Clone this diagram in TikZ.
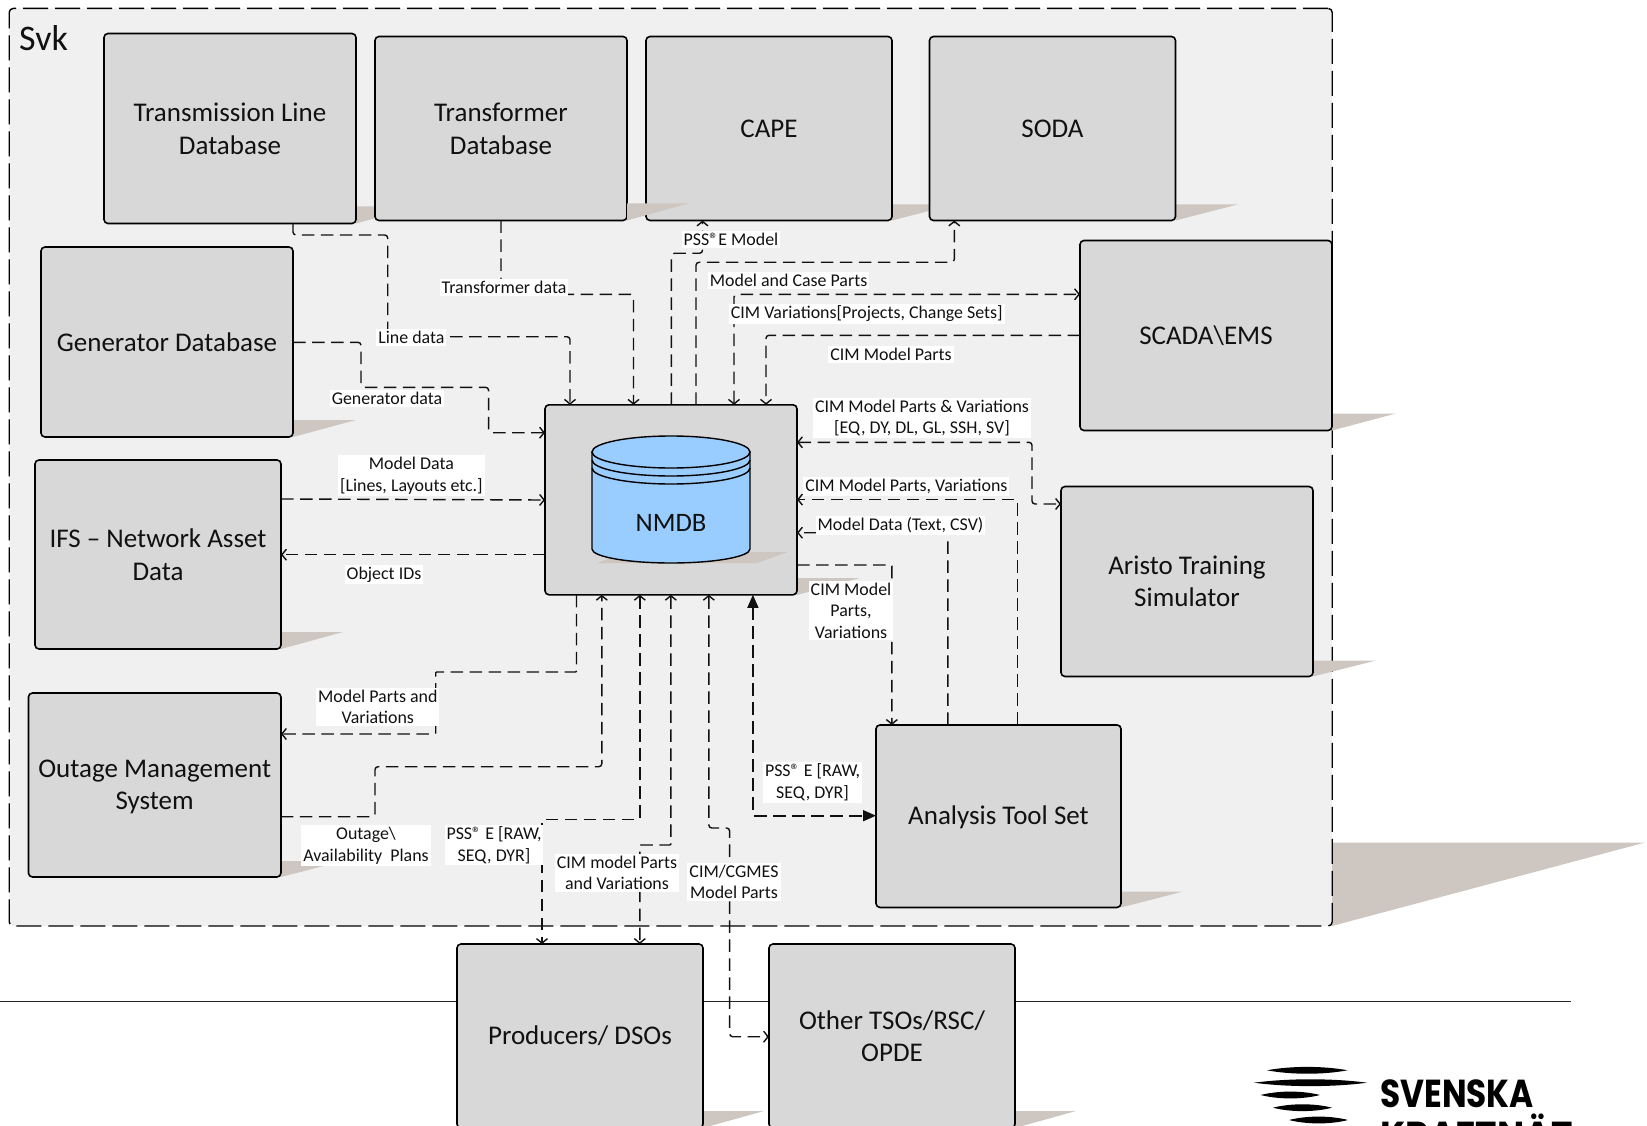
\documentclass[tikz,border=0pt]{standalone}
\usepackage{fontspec}
\setmainfont{Carlito}
\newfontfamily\logofonta[FakeStretch=0.84]{Poppins}
\newfontfamily\logofontb[FakeStretch=0.93]{Poppins}
\usetikzlibrary{arrows.meta}
\definecolor{cont}{HTML}{F0F0F0}
\definecolor{boxf}{HTML}{D8D8D8}
\definecolor{shad}{HTML}{CEC6C0}
\definecolor{cyl}{HTML}{99CCFF}
\definecolor{ink}{HTML}{111111}
\tikzset{
  x=1pt,y=-1pt,
  >={Straight Barb[length=4.5,width=11]},
  sysbox/.style={draw=black,line width=1.6,fill=boxf,rounded corners=4,outer sep=0,inner sep=0,align=center,
     font=\fontsize{27}{32.5}\selectfont,text=ink},
  boxtext/.style={align=center,inner sep=0,font=\fontsize{27}{32.5}\selectfont,text=ink},
  flow/.style={draw=ink,line width=1.4,dash pattern=on 12.5 off 6.5,rounded corners=3},
  lab/.style={fill=white,inner sep=2,align=center,font=\fontsize{17.9}{21.5}\selectfont,text=ink},
  solidflow/.style={arrows={Triangle[length=13,width=11]-Triangle[length=13,width=11]},line width=1.6},
}
\newcommand{\shd}[4]{\fill[shad] (#1,#2-#4) -- (#1+#3,#2-#4) -- (#1,#2) -- cycle;}
\newcommand{\lens}[4]{\fill[black] (#1,#3) .. controls (#1+0.3*#2-0.3*#1,#3-#4*1.3) and (#1+0.7*#2-0.7*#1,#3-#4*1.3) .. (#2,#3) .. controls (#1+0.7*#2-0.7*#1,#3+#4*1.3) and (#1+0.3*#2-0.3*#1,#3+#4*1.3) .. (#1,#3) -- cycle;}
\begin{document}
\begin{tikzpicture}
\useasboundingbox (0,0) rectangle (1647,1126);
\clip (0,0) rectangle (1647,1126);
% horizontal rule
\draw[color=black!85,line width=1] (0,1001.5) -- (1571,1001.5);
% big shadow and container
\fill[shad] (1332,842.5) -- (1645,842.5) -- (1332,926) -- cycle;
\node[draw=black,line width=1.4,fill=cont,dash pattern=on 25 off 7,rounded corners=4,outer sep=0,inner sep=0,
  minimum width=1323,minimum height=917.5] (svk) at (670.7,467.2) {};
\node[anchor=west,font=\fontsize{36}{40}\selectfont,text=ink,inner sep=0] (svklabel) at (19,38) {Svk};
% shadows
\shd{356}{223.5}{62}{17}
\shd{892}{220.5}{62}{16}
\shd{1175.5}{220.5}{62}{16}
\shd{1332}{430.5}{64}{17}
\shd{293}{437}{63}{17}
\shd{281}{649}{62}{17}
\shd{281}{877}{62}{16}
\shd{1313}{676.5}{63}{16}
\shd{1121}{907.5}{62}{16}
\shd{703}{1128}{61}{17}
\shd{1015}{1128}{61}{17}
\shd{797}{595}{63}{17}
% boxes
\node[sysbox,minimum width=252,minimum height=190] (t1) at (230,128.5) {};
\node[boxtext] (t1t) at (230,129) {Transmission Line\\Database};
\node[sysbox,minimum width=252,minimum height=184] (t2) at (501,128.5) {};
\node[boxtext] (t2t) at (501,129) {Transformer\\Database};
\node[sysbox,minimum width=246,minimum height=184] (cape) at (769,128.5) {CAPE};
\shd{627}{220.5}{61}{17}
\node[sysbox,minimum width=246,minimum height=184] (soda) at (1052.5,128.5) {SODA};
\node[sysbox,minimum width=252,minimum height=190] (scada) at (1206,335.5) {SCADA\textbackslash EMS};
\node[sysbox,minimum width=252,minimum height=190] (gen) at (167,342) {Generator Database};
\node[sysbox,minimum width=246,minimum height=189] (ifs) at (158,554.5) {IFS -- Network Asset\\Data};
\node[sysbox,minimum width=252.5,minimum height=184] (oms) at (154.7,785) {};
\node[boxtext] (omst) at (154.7,787) {Outage Management\\System};
\node[sysbox,minimum width=252,minimum height=190] (nmdb) at (671,499.8) {};
\node[sysbox,minimum width=252,minimum height=190] (aristo) at (1187,581.5) {Aristo Training\\Simulator};
\node[sysbox,minimum width=245,minimum height=182.5] (ats) at (998.5,816.2) {};
\node[boxtext] (atst) at (998.5,817.7) {Analysis Tool Set};
\node[sysbox,minimum width=246,minimum height=184] (prod) at (580,1036) {Producers/ DSOs};
\node[sysbox,minimum width=246,minimum height=184] (tso) at (892,1036) {Other TSOs/RSC/\\OPDE};
% cylinder
\fill[shad] (597,563) -- (625,552) -- (787.5,552) -- (757,563) -- cycle;
\filldraw[draw=black,line width=1.4,fill=cyl] (592,452) -- (592,549) arc[start angle=180,end angle=360,x radius=79,y radius=-14] -- (750,452) -- cycle;
\filldraw[draw=black,line width=1.4,fill=cyl] (671,452) ellipse[x radius=79,y radius=16];
\draw[black,line width=1.4] (592,460) arc[start angle=180,end angle=360,x radius=79,y radius=-16];
\draw[black,line width=1.4] (592,468) arc[start angle=180,end angle=360,x radius=79,y radius=-16];
\node[font=\fontsize{26.6}{30}\selectfont,text=ink,inner sep=0] (nmdblabel) at (671,523) {NMDB};
% connectors
\draw[flow,->] (t1.south -| 293,0) |- (387.7,235) |- (570,336.7) -- (nmdb.north -| 570,0);
\draw[flow,->] (t2.south -| 501,0) |- (633.5,294.3) -- (nmdb.north -| 633.5,0);
\draw[flow,->] (gen.east |- 0,342.3) -| (361,387.3) -| (488.6,432.7) -- (nmdb.west |- 0,432.7);
\draw[flow,->] (ifs.east |- 0,499) -- (nmdb.west |- 0,500);
\draw[flow,->] (nmdb.west |- 0,554.7) -- (ifs.east |- 0,554.7);
\draw[flow,->,rounded corners=1] (nmdb.south -| 576.5,0) |- (435.7,672) |- (oms.east |- 0,734);
\draw[flow,->] (oms.east |- 0,816.7) -| (375,766.7) -| (nmdb.south -| 601.8,0);
\draw[flow,<->,rounded corners=1] (nmdb.south -| 639.8,0) |- (542,819.3) -- (prod.north -| 542,0);
\draw[flow,<->,rounded corners=1] (nmdb.south -| 670.8,0) |- (639.8,845) -- (prod.north -| 639.8,0);
\draw[flow,<->] (nmdb.south -| 708.8,0) |- (729.6,828) |- (tso.west |- 0,1036.7);
\draw[flow,solidflow,rounded corners=1] (nmdb.south -| 752.9,0) |- (ats.west |- 0,815.7);
\draw[flow,->,rounded corners=1] (nmdb.east |- 0,565) -| (ats.north -| 891.8,0);
\draw[flow,->,rounded corners=1] (ats.north -| 947.9,0) |- (nmdb.east |- 0,532.7);
\draw[flow,->,rounded corners=1] (ats.north -| 1017.3,0) |- (nmdb.east |- 0,499.6);
\draw[flow,<->] (nmdb.north -| 734,0) |- (scada.west |- 0,294.3);
\draw[flow,->] (scada.west |- 0,335.3) -| (nmdb.north -| 766,0);
\draw[flow,->] (nmdb.north -| 671.4,0) |- (702.5,253.3) -- (cape.south -| 702.5,0);
\draw[flow,->] (nmdb.north -| 696,0) |- (954.3,262.3) -- (soda.south -| 954.3,0);
\draw[flow,<->] (nmdb.east |- 0,442.3) -| (1032,504) -- (aristo.west |- 0,504);
% labels
\node[lab] (l1) at (411.4,337.5) {Line data};
\node[lab] (l2) at (504,287.7) {Transformer data};
\node[lab] (l3) at (387,398.7) {Generator data};
\node[lab] (l4) at (411.4,475.8) {Model Data\\{}[Lines, Layouts etc.]};
\node[lab] (l5) at (384,574.5) {Object IDs};
\node[lab] (l6) at (377.8,706.7) {Model Parts and\\Variations};
\node[lab] (l7) at (366,845.7) {Outage\textbackslash\\Availability\ \ Plans};
\node[lab] (l8) at (494,845) {PSS® E [RAW,\\SEQ, DYR]};
\node[lab] (l9) at (617,872.7) {CIM model Parts\\and Variations};
\node[lab] (l10) at (734,881.7) {CIM/CGMES\\Model Parts};
\node[lab] (l11) at (812.5,782.3) {PSS® E [RAW,\\SEQ, DYR]};
\node[lab] (l12) at (851,610.5) {CIM Model\\Parts,\\Variations};
\node[lab] (l13) at (900.5,525.3) {Model Data (Text, CSV)};
\node[lab] (l14) at (906.4,486.3) {CIM Model Parts, Variations};
\node[lab] (l15) at (866.8,313.8) {CIM Variations[Projects, Change Sets]};
\node[lab] (l16) at (891,354.3) {CIM Model Parts};
\node[lab] (l17) at (731,239.3) {PSS®E Model};
\node[lab] (l18) at (788.6,280.3) {Model and Case Parts};
\node[lab] (l19) at (922,418.2) {CIM Model Parts \& Variations\\{}[EQ, DY, DL, GL, SSH, SV]};
% logo
\lens{1267}{1347.5}{1070.3}{3.5}
\lens{1254}{1367}{1082.7}{3.5}
\lens{1260.6}{1320}{1095}{3.5}
\lens{1273}{1332}{1107.7}{3.5}
\lens{1289}{1348}{1120}{3.5}
\node[anchor=base west,inner sep=0,text=black,font=\logofonta\bfseries\fontsize{39}{40}\selectfont] (logo1) at (1380,1107.5) {SVENSKA};
\node[anchor=base west,inner sep=0,text=black,font=\logofontb\bfseries\fontsize{39}{40}\selectfont] (logo2) at (1380,1149) {KRAFTNÄT};
\end{tikzpicture}
\end{document}
